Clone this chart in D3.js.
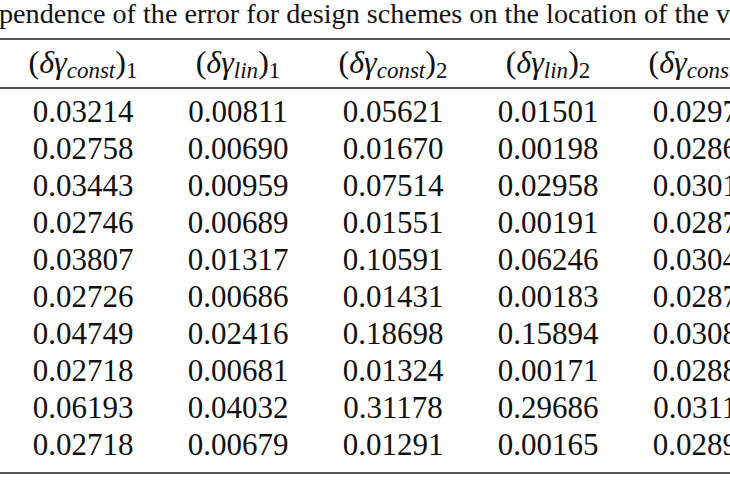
<!DOCTYPE html>
<html>
<head>
<meta charset="utf-8">
<script src="https://cdn.jsdelivr.net/npm/d3@7"></script>
<style>
	body { margin: 0; background: #fff; overflow: hidden; }
	svg { display: block; }
</style>
</head>
<body>
<div id="chart"></div>
<script>
// Table data
const titleText = "Dependence of the error for design schemes on the location of the vortex";
const headerSub = ["const", "lin", "const", "lin", "const"];
const headerIdx = ["1", "1", "2", "2", "3"];

const col1 = [0.03214, 0.02758, 0.03443, 0.02746, 0.03807, 0.02726, 0.04749, 0.02718, 0.06193, 0.02718];
const col2 = [0.00811, 0.00690, 0.00959, 0.00689, 0.01317, 0.00686, 0.02416, 0.00681, 0.04032, 0.00679];
const col3 = [0.05621, 0.01670, 0.07514, 0.01551, 0.10591, 0.01431, 0.18698, 0.01324, 0.31178, 0.01291];
const col4 = [0.01501, 0.00198, 0.02958, 0.00191, 0.06246, 0.00183, 0.15894, 0.00171, 0.29686, 0.00165];
// last column is cut off at the right edge, last digit estimated
const col5 = [0.02975, 0.02865, 0.03015, 0.02875, 0.03045, 0.02875, 0.03085, 0.02885, 0.03115, 0.02895];

generateTable();

function generateTable() {
	const width = 730;
	const height = 486;
	const columns = [col1, col2, col3, col4, col5];
	const fmt = d3.format(".5f");

	// column centres
	const xScale = d3.scalePoint()
		.domain(d3.range(columns.length))
		.range([83, 703]);

	// row baselines
	const yScale = d3.scalePoint()
		.domain(d3.range(col1.length))
		.range([122, 455]);

	const svg = d3.select('#chart')
		.append('svg')
		.attr('width', width)
		.attr('height', height)
		.style('font-family', '"Liberation Serif", "Times New Roman", serif')
		.style('fill', '#111');

	// Caption, cut off on both sides like the reference
	const title = svg.append('text')
		.attr('y', 23)
		.style('font-size', '28.2px')
		.text(titleText);
	const shift = title.node().getSubStringLength(0, 2);
	title.attr('x', -shift - 1);

	// rules
	[39, 88, 473].forEach(y => {
		svg.append('line')
			.attr('x1', 0).attr('x2', width)
			.attr('y1', y).attr('y2', y)
			.attr('stroke', '#222')
			.attr('stroke-width', 1.4);
	});

	// headers
	const head = svg.selectAll('text.head')
		.data(headerSub)
		.enter()
		.append('text')
			.attr('class', 'head')
			.attr('x', (d, i) => xScale(i))
			.attr('y', 73)
			.attr('text-anchor', 'middle')
			.style('font-size', '32px');

	head.append('tspan').text('(');
	head.append('tspan').style('font-style', 'italic').text('δγ');
	head.append('tspan')
		.style('font-style', 'italic')
		.style('font-size', '23px')
		.attr('dy', 5)
		.text(d => d);
	head.append('tspan').attr('dy', -5).text(')');
	head.append('tspan')
		.style('font-size', '23px')
		.attr('dy', 5)
		.text((d, i) => headerIdx[i]);

	// cells
	columns.forEach((col, c) => {
		svg.selectAll('text.c' + c)
			.data(col)
			.enter()
			.append('text')
				.attr('class', 'c' + c)
				.attr('x', xScale(c))
				.attr('y', (d, r) => yScale(r))
				.attr('text-anchor', 'middle')
				.style('font-size', '31px')
				.text(d => fmt(d));
	});
}
</script>
</body>
</html>
